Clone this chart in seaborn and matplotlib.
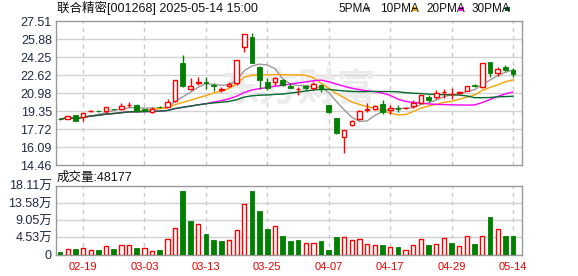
import numpy as np
import pandas as pd
import matplotlib
matplotlib.use("Agg")
import matplotlib.pyplot as plt
import seaborn as sns
from matplotlib.patches import Rectangle

# ---------------- data ----------------
dates = ["02-14", "02-17", "02-18", "02-19", "02-20", "02-21", "02-24", "02-25", "02-26", "02-27",
         "02-28", "03-03", "03-04", "03-05", "03-06", "03-07", "03-10", "03-11", "03-12", "03-13",
         "03-14", "03-17", "03-18", "03-19", "03-20", "03-21", "03-24", "03-25", "03-26", "03-27",
         "03-28", "03-31", "04-01", "04-02", "04-03", "04-07", "04-08", "04-09", "04-10", "04-11",
         "04-14", "04-15", "04-16", "04-17", "04-18", "04-21", "04-22", "04-23", "04-24", "04-25",
         "04-28", "04-29", "04-30", "05-06", "05-07", "05-08", "05-09", "05-12", "05-13", "05-14"]
open_ = [18.66, 18.66, 18.95, 18.84, 19.32, 19.38, 19.35, 19.55, 19.51, 19.87,
         19.90, 19.49, 19.24, 19.72, 19.74, 20.29, 23.68, 21.35, 21.90, 21.95,
         21.68, 21.30, 21.62, 21.86, 25.18, 26.03, 23.37, 22.01, 21.95, 22.16,
         21.62, 21.32, 21.60, 21.47, 21.71, 19.90, 18.72, 17.03, 18.06, 18.60,
         19.45, 19.51, 19.96, 19.45, 19.62, 19.63, 19.81, 20.11, 20.62, 20.65,
         21.08, 20.88, 20.95, 21.20, 21.68, 21.55, 23.77, 22.77, 23.37, 23.07]
close = [18.60, 18.90, 18.48, 19.14, 19.36, 19.34, 19.69, 19.50, 19.84, 19.90,
         19.35, 19.47, 19.55, 19.68, 20.20, 22.16, 21.62, 21.62, 21.94, 21.90,
         21.64, 21.34, 21.80, 23.98, 26.33, 23.73, 22.16, 21.41, 22.32, 21.71,
         21.47, 21.36, 21.40, 21.77, 21.35, 19.24, 17.33, 17.63, 18.45, 19.38,
         19.50, 19.84, 19.30, 19.66, 19.58, 19.67, 20.05, 20.77, 20.35, 20.95,
         21.12, 20.92, 21.11, 21.59, 21.64, 23.68, 22.77, 23.16, 23.07, 22.68]
high = [18.70, 18.93, 19.00, 19.20, 19.45, 19.45, 19.72, 19.58, 20.10, 20.13,
        19.97, 19.55, 19.70, 19.78, 20.45, 22.16, 24.43, 22.32, 22.40, 22.40,
        21.86, 21.50, 21.98, 24.00, 26.35, 26.39, 23.40, 22.31, 22.46, 22.25,
        21.87, 21.56, 21.70, 22.00, 21.77, 19.92, 18.75, 17.65, 18.50, 19.42,
        20.05, 19.90, 20.35, 19.90, 19.87, 19.72, 20.35, 20.80, 20.80, 21.26,
        21.32, 21.41, 21.20, 21.62, 21.80, 23.70, 23.82, 23.37, 23.52, 23.28]
low = [18.55, 18.62, 18.45, 18.45, 19.25, 19.30, 19.15, 19.45, 19.48, 19.75,
       19.30, 19.40, 19.20, 19.60, 19.70, 20.14, 21.55, 21.30, 21.71, 21.35,
       21.20, 21.05, 21.50, 21.71, 24.73, 23.70, 21.35, 21.26, 21.71, 21.60,
       21.41, 20.80, 21.30, 21.26, 21.05, 19.20, 17.27, 15.58, 18.00, 18.55,
       19.30, 19.45, 19.05, 19.05, 19.30, 19.55, 19.60, 20.08, 20.14, 20.44,
       20.50, 20.44, 20.90, 21.15, 21.50, 21.41, 22.46, 22.55, 22.98, 22.46]
volume_wan = [0.71, 1.41, 1.50, 1.85, 1.15, 1.24, 2.20, 1.50, 2.47, 2.47,
              1.77, 1.68, 1.06, 1.15, 4.04, 6.92, 16.72, 8.86, 7.97, 5.43,
              3.86, 3.60, 3.86, 6.40, 13.31, 16.72, 11.47, 6.75, 7.45, 4.90,
              3.60, 3.86, 2.98, 2.98, 3.60, 1.24, 4.55, 4.55, 3.86, 4.04,
              2.80, 2.54, 2.54, 1.93, 2.02, 1.15, 2.46, 4.04, 2.54, 2.80,
              4.29, 3.07, 2.19, 4.82, 2.80, 4.82, 9.90, 6.66, 4.90, 4.8177]
# volume bar direction: 1 = up (red hollow), 0 = down (green)
volume_up = [0, 1, 0, 1, 1, 0, 1, 0, 1, 1,
             0, 1, 1, 0, 1, 1, 0, 0, 1, 0,
             0, 0, 1, 1, 1, 0, 0, 0, 1, 0,
             0, 0, 1, 1, 0, 0, 0, 1, 1, 1,
             1, 1, 0, 1, 0, 1, 1, 1, 0, 1,
             1, 0, 1, 1, 0, 1, 0, 1, 0, 0]

ma_windows = [5, 10, 20, 30]
ma_names = ["5PMA", "10PMA", "20PMA", "30PMA"]
ma_colors = ["#999999", "#f5a300", "#ff00ff", "#006b2c"]

price_ticks = [14.46, 16.09125, 17.7225, 19.35375, 20.985, 22.61625, 24.2475, 25.87875, 27.51]
price_tick_labels = ["14.46", "16.09", "17.72", "19.35", "20.98", "22.62", "24.25", "25.88", "27.51"]
vol_ticks = [0, 4.5275, 9.055, 13.5825, 18.11]
vol_tick_labels = ["0", "4.53万", "9.05万", "13.58万", "18.11万"]
x_tick_dates = ["02-19", "03-03", "03-13", "03-25", "04-07", "04-17", "04-29", "05-14"]

title_text = "联合精密[001268] 2025-05-14 15:00"
vol_title = "成交量:48177"
watermark = "东方财富"

# ---------------- style ----------------
sns.set_theme(style="white")
plt.rcParams["font.family"] = ["Liberation Sans", "Noto Sans CJK SC", "DejaVu Sans"]

RED = "#ff0000"
GREEN = "#008000"
GRID = "#d2d2d2"
FRAME = "#999999"
LABEL = "#1f2a48"

W, H = 578, 276
fig = plt.figure(figsize=(W / 100, H / 100), dpi=100)
fig.patch.set_facecolor("white")
ax = fig.add_axes([56 / W, 1 - 165 / H, 466 / W, 144 / H])
axv = fig.add_axes([56 / W, 1 - 254.7 / H, 466 / W, 69 / H], sharex=ax)

df = pd.DataFrame({"date": dates, "open": open_, "close": close, "high": high,
                   "low": low, "vol": volume_wan, "vup": volume_up})
df["x"] = np.arange(len(df))
for n, name in zip(ma_windows, ma_names):
    df[name] = df["close"].rolling(n, min_periods=1).mean()

xlim = (-0.52, len(df) + 0.16)
tick_pos = [dates.index(d) for d in x_tick_dates]

# grids
for a in (ax, axv):
    for xp in tick_pos:
        a.axvline(xp, color="#c8c8c8", lw=1, ls=(0, (3, 3)), zorder=0)
for yp in price_ticks[1:-1]:
    ax.axhline(yp, color=GRID, lw=1, zorder=0)
for yp in vol_ticks[1:-1]:
    axv.axhline(yp, color=GRID, lw=1, zorder=0)

# watermark
ax.text(0.52, 0.52, watermark, transform=ax.transAxes, ha="center", va="center",
        fontsize=28, color="#ececec", fontweight="bold", style="italic",
        family=["Noto Sans CJK SC"], zorder=0.5)

# moving averages
for name, col in zip(ma_names, ma_colors):
    sns.lineplot(data=df, x="x", y=name, ax=ax, color=col, linewidth=1.0,
                 legend=False, zorder=2)

# candles
up = df[df["close"] >= df["open"]]
dn = df[df["close"] < df["open"]]
for sub, col in ((up, RED), (dn, GREEN)):
    top = np.maximum(sub["open"], sub["close"])
    bot = np.minimum(sub["open"], sub["close"])
    ax.vlines(sub["x"], top, sub["high"], color=col, lw=1, zorder=3)
    ax.vlines(sub["x"], sub["low"], bot, color=col, lw=1, zorder=3)
ax.bar(up["x"], (up["close"] - up["open"]).clip(lower=0.01), bottom=up["open"], width=0.6,
       facecolor="white", edgecolor=RED, linewidth=1, zorder=4)
ax.bar(dn["x"], (dn["open"] - dn["close"]).clip(lower=0.01), bottom=dn["close"], width=0.62,
       facecolor=GREEN, edgecolor=GREEN, linewidth=0.6, zorder=4)

# volume
vu = df[df["vup"] == 1]
vd = df[df["vup"] == 0]
axv.bar(vu["x"], vu["vol"], width=0.55, facecolor="white", edgecolor=RED, linewidth=1, zorder=3)
axv.bar(vd["x"], vd["vol"], width=0.62, facecolor=GREEN, edgecolor=GREEN, linewidth=0.6, zorder=3)

# axes
ax.set_xlim(*xlim)
ax.set_ylim(price_ticks[0], price_ticks[-1])
axv.set_ylim(vol_ticks[0], vol_ticks[-1])
ax.set_yticks(price_ticks)
ax.set_yticklabels(price_tick_labels, fontsize=9, color=LABEL)
axv.set_yticks(vol_ticks)
axv.set_yticklabels(vol_tick_labels, fontsize=9, color=LABEL)
axv.set_xticks(tick_pos)
axv.set_xticklabels(x_tick_dates, fontsize=8, color="#ee0000")
ax.tick_params(axis="x", labelbottom=False, length=0)
ax.tick_params(axis="y", length=0, pad=3)
axv.tick_params(axis="y", length=0, pad=3)
axv.tick_params(axis="x", length=0, pad=5)
for a in (ax, axv):
    a.set_xlabel("")
    a.set_ylabel("")
    a.grid(False)
    a.set_facecolor("white")
    for s in a.spines.values():
        s.set_color(FRAME)
        s.set_linewidth(1)
        s.set_visible(True)

# header texts
fig.text(57 / W, 1 - 8 / H, title_text, ha="left", va="center", fontsize=9,
         color="#111111", family=["Liberation Sans", "Noto Sans CJK SC"])
fig.text(57 / W, 1 - 177.5 / H, vol_title, ha="left", va="center", fontsize=9,
         color="#111111", family=["Liberation Sans", "Noto Sans CJK SC"])

leg_x = [338, 380, 426, 472]
box_x = [365, 412, 459, 505]
for name, col, lx, bx in zip(ma_names, ma_colors, leg_x, box_x):
    fig.text(lx / W, 1 - 9 / H, name, ha="left", va="center", fontsize=8.5, color="#111111")
    fig.patches.append(Rectangle((bx / W, 1 - 11 / H), 5 / W, 4 / H, transform=fig.transFigure,
                                 facecolor=col, edgecolor="none"))

fig.savefig("out.png", dpi=100, facecolor="white")
